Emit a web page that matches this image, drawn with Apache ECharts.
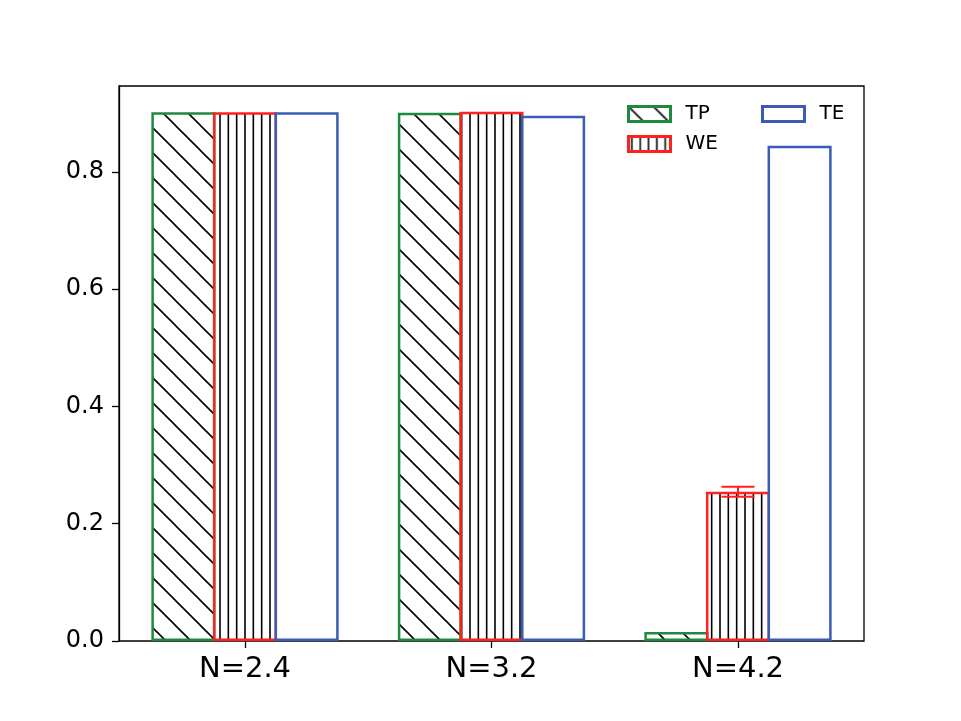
<!DOCTYPE html>
<html>
<head>
<meta charset="utf-8">
<script src="https://cdn.jsdelivr.net/npm/echarts@6/dist/echarts.min.js"></script>
<style>
  html, body { margin: 0; padding: 0; background: #fff; }
  #chart { width: 961px; height: 721px; }
</style>
</head>
<body>
<div id="chart"></div>
<script>
// data
const categories = ['N=2.4', 'N=3.2', 'N=4.2'];
const tpValues = [0.900, 0.899, 0.0154];
const weValues = [0.900, 0.9006, 0.254];
const teValues = [0.900, 0.894, 0.8427];
const weErrors = [0, 0, 0.0085];
const yTicks = [0, 0.2, 0.4, 0.6, 0.8];

const FONT = 'DejaVu Sans';
const GREEN = '#1e8a3e';
const RED = '#ff2020';
const BLUE = '#3b5bb5';

// hatch patterns (matplotlib '\\' and '|||' look)
function makeDiagHatch() {
  const c = document.createElement('canvas');
  c.width = 25; c.height = 25;
  const ctx = c.getContext('2d');
  ctx.strokeStyle = '#000';
  ctx.lineWidth = 1.6;
  [-25, 0, 25].forEach((k) => {
    ctx.beginPath();
    ctx.moveTo(k - 5, -5);
    ctx.lineTo(k + 30, 30);
    ctx.stroke();
  });
  return c;
}

function makeVertHatch() {
  const c = document.createElement('canvas');
  c.width = 25; c.height = 25;
  const ctx = c.getContext('2d');
  ctx.strokeStyle = '#000';
  ctx.lineWidth = 1.6;
  [3.33, 11.67, 20].forEach((x) => {
    ctx.beginPath();
    ctx.moveTo(x, 0);
    ctx.lineTo(x, 25);
    ctx.stroke();
  });
  return c;
}

const chart = echarts.init(document.getElementById('chart'), null, { renderer: 'canvas' });

const Y_MAX = 0.9466;
// echarts keeps the border inside the bar, so widen by the border and overlap
const BORDER = 2.5;
const BAR_W = 61.6 + BORDER;
const BAR_GAP = (-BORDER / BAR_W * 100).toFixed(2) + '%';

const legendText = { fontFamily: FONT, fontSize: 20, color: '#000', padding: [0, 0, 0, 10] };

const option = {
  animation: false,
  textStyle: { fontFamily: FONT },
  grid: [
    // frame grid, carries the y axis
    { left: 119, top: 86, width: 745, height: 555, show: true, borderColor: '#000', borderWidth: 1.3, backgroundColor: 'transparent' },
    // bars grid, slightly inset like matplotlib's margins (top nudged for the inner border)
    { left: 121.75, top: 84.75, width: 739.5, height: 556.25 },
  ],
  legend: [
    {
      data: ['TP', 'WE'],
      orient: 'vertical',
      left: 627, top: 104,
      padding: 0,
      itemWidth: 42, itemHeight: 15, itemGap: 10,
      icon: 'rect',
      itemStyle: { borderWidth: 3 },
      textStyle: legendText,
    },
    {
      data: ['TE'],
      orient: 'vertical',
      left: 761, top: 104,
      padding: 0,
      itemWidth: 42, itemHeight: 15,
      icon: 'rect',
      itemStyle: { borderWidth: 3 },
      textStyle: legendText,
    },
  ],
  xAxis: [
    { type: 'category', gridIndex: 0, data: categories, show: false },
    {
      type: 'category', gridIndex: 1, data: categories,
      axisLine: { show: false },
      axisTick: { show: true, alignWithLabel: true, length: 7, lineStyle: { color: '#000', width: 1.3 } },
      axisLabel: { fontFamily: FONT, fontSize: 29, color: '#000', margin: 14 },
      splitLine: { show: false },
    },
  ],
  yAxis: [
    {
      type: 'value', gridIndex: 0, min: 0, max: Y_MAX,
      axisLine: { show: true, lineStyle: { color: '#000', width: 1.3 } },
      axisTick: { show: true, length: 7, lineStyle: { color: '#000', width: 1.3 }, customValues: yTicks },
      axisLabel: { fontFamily: FONT, fontSize: 24, color: '#000', margin: 15, customValues: yTicks,
        formatter: (v) => v.toFixed(1) },
      splitLine: { show: false },
    },
    { type: 'value', gridIndex: 1, min: 0, max: Y_MAX, show: false },
  ],
  series: [
    {
      name: 'TP', type: 'bar', xAxisIndex: 1, yAxisIndex: 1,
      data: tpValues, barWidth: BAR_W, barGap: BAR_GAP,
      itemStyle: { color: { image: makeDiagHatch(), repeat: 'repeat' }, borderColor: GREEN, borderWidth: BORDER },
    },
    {
      name: 'WE', type: 'bar', xAxisIndex: 1, yAxisIndex: 1,
      data: weValues, barWidth: BAR_W, barGap: BAR_GAP,
      itemStyle: { color: { image: makeVertHatch(), repeat: 'repeat' }, borderColor: RED, borderWidth: BORDER },
    },
    {
      name: 'TE', type: 'bar', xAxisIndex: 1, yAxisIndex: 1,
      data: teValues, barWidth: BAR_W, barGap: BAR_GAP,
      itemStyle: { color: '#fff', borderColor: BLUE, borderWidth: BORDER },
    },
    {
      name: 'WE error', type: 'custom', xAxisIndex: 1, yAxisIndex: 1,
      data: weValues.map((v, i) => [i, v, weErrors[i]]),
      z: 5,
      renderItem: (params, api) => {
        const idx = api.value(0);
        const v = api.value(1);
        const e = api.value(2);
        if (!e) return null;
        const top = api.coord([idx, v + e]);
        const bot = api.coord([idx, v - e]);
        const x = top[0];
        const cap = 16.5;
        const style = { stroke: RED, lineWidth: 2 };
        return {
          type: 'group',
          children: [
            { type: 'line', shape: { x1: x, y1: top[1], x2: x, y2: bot[1] }, style },
            { type: 'line', shape: { x1: x - cap, y1: top[1], x2: x + cap, y2: top[1] }, style },
            { type: 'line', shape: { x1: x - cap, y1: bot[1], x2: x + cap, y2: bot[1] }, style },
          ],
        };
      },
    },
  ],
};

chart.setOption(option);
</script>
</body>
</html>
